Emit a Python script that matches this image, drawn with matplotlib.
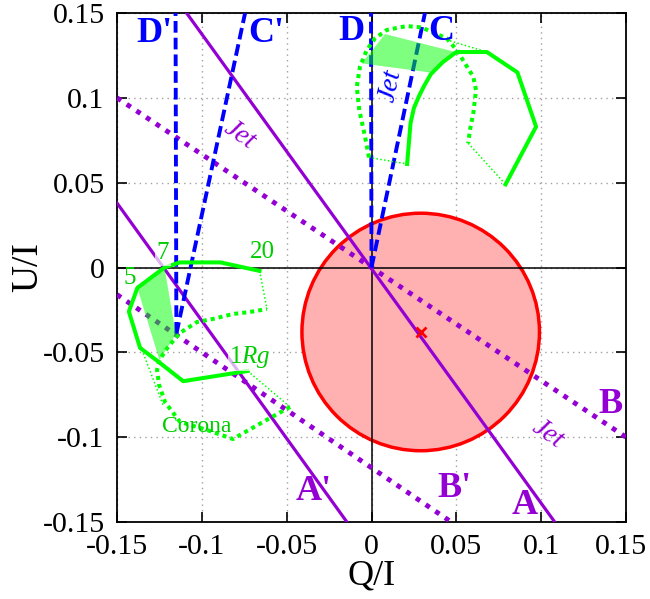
import numpy as np
import matplotlib
matplotlib.use("Agg")
import matplotlib.pyplot as plt
import matplotlib.transforms as mtransforms
from matplotlib.patches import Circle, Polygon

plt.rcParams['font.family'] = ['Liberation Serif', 'DejaVu Serif']
plt.rcParams['mathtext.fontset'] = 'custom'
plt.rcParams['mathtext.rm'] = 'Liberation Serif'
plt.rcParams['mathtext.it'] = 'Liberation Serif:italic'

PURPLE = '#9400d3'
GREEN = '#00ff00'
BLUE = '#0000ff'

ticks = [-0.15, -0.1, -0.05, 0, 0.05, 0.1, 0.15]
tick_labels = ['-0.15', '-0.1', '-0.05', '0', '0.05', '0.1', '0.15']

# polarisation circle
circ_q, circ_u, circ_r = 0.029, -0.038, 0.070

# position-angle lines (solid = A, A'; dotted = B, B')
lineA_q = [-0.109, 0.108]
lineA_u = [0.15, -0.15]
lineA2_q = [-0.15, -0.0145]
lineA2_u = [0.038, -0.15]
lineB_q = [-0.15, 0.15]
lineB_u = [0.10, -0.10]
lineB2_q = [-0.15, 0.047]
lineB2_u = [-0.016, -0.15]

# blue dashed lines
lineD_q = [0.0, -0.0003]
lineD_u = [0.0, 0.15]
lineC_q = [0.0, 0.0315]
lineC_u = [0.0, 0.15]
lineD2_q = [-0.115, -0.1155]
lineD2_u = [-0.039, 0.15]
lineC2_q = [-0.115, -0.0745]
lineC2_u = [-0.039, 0.15]

# jet loop (upper right)
jet_sol_q = [0.021, 0.023, 0.025, 0.028, 0.031, 0.035, 0.042, 0.050, 0.068, 0.086, 0.097, 0.079]
jet_sol_u = [0.061, 0.085, 0.094, 0.101, 0.107, 0.114, 0.121, 0.127, 0.127, 0.115, 0.083, 0.049]
jet_dot_q = [-0.0015, -0.0038, -0.0072, -0.0087, -0.0068, -0.0028, 0.0021, 0.0090, 0.0207,
             0.0296, 0.0364, 0.0443, 0.0502, 0.0551, 0.0600, 0.0616, 0.0600, 0.0580, 0.0570]
jet_dot_u = [0.0649, 0.0771, 0.0928, 0.1065, 0.1183, 0.1282, 0.1351, 0.1400, 0.1423,
             0.1415, 0.1384, 0.1351, 0.1282, 0.1203, 0.1124, 0.1046, 0.0909, 0.0810, 0.0732]
jet_fill_q = [-0.0058, 0.0080, 0.0502, 0.0355]
jet_fill_u = [0.1203, 0.1376, 0.1268, 0.1148]
jet_links = [((-0.0015, 0.021), (0.0649, 0.061)),
             ((0.0570, 0.079), (0.0732, 0.049)),
             ((0.0463, 0.068), (0.1336, 0.127))]

# corona loop (lower left)
cor_sol_q = [-0.073, -0.111, -0.1256, -0.1364, -0.143, -0.138, -0.130, -0.122, -0.113, -0.101, -0.089, -0.066]
cor_sol_u = [-0.061, -0.067, -0.0555, -0.0474, -0.026, -0.012, -0.006, 0.000, 0.003, 0.003, 0.003, -0.002]
cor_dot_q = [-0.0480, -0.0598, -0.0775, -0.0816, -0.0969, -0.1129, -0.1217, -0.1252, -0.1264,
             -0.1250, -0.1199, -0.1129, -0.1028, -0.0934, -0.0816, -0.0716, -0.0616]
cor_dot_u = [-0.0822, -0.0887, -0.0987, -0.1011, -0.0958, -0.0910, -0.0793, -0.0692, -0.0604,
             -0.0545, -0.0468, -0.0386, -0.0321, -0.0303, -0.0274, -0.0262, -0.0245]
cor_fill_q = [-0.138, -0.122, -0.1153, -0.125]
cor_fill_u = [-0.012, 0.000, -0.0395, -0.0545]
cor_links = [((-0.073, -0.048), (-0.061, -0.0822)),
             ((-0.066, -0.0616), (-0.002, -0.0245)),
             ((-0.1345, -0.1229), (-0.0506, -0.0810)),
             ((-0.1256, -0.1109), (-0.0563, -0.0673))]

fig = plt.figure(figsize=(6.5, 5.99), dpi=100)
ax = fig.add_axes([117 / 650, 1 - 522 / 599, 509 / 650, 509 / 599])

ax.set_xlim(-0.15, 0.15)
ax.set_ylim(-0.15, 0.15)
ax.set_xticks(ticks)
ax.set_yticks(ticks)
ax.set_xticklabels(tick_labels)
ax.set_yticklabels(tick_labels)
ax.tick_params(direction='in', length=7, width=1.2, labelsize=21.5, top=True, right=True, pad=9)
# pull the last x label in a little so it stays inside the figure
last = ax.get_xticklabels()[-1]
last.set_transform(last.get_transform() + mtransforms.ScaledTranslation(-5 / 100, 0, fig.dpi_scale_trans))
for s in ax.spines.values():
    s.set_linewidth(1.3)
ax.grid(True, color='#a0a0a0', linestyle=(0, (1, 3)), linewidth=1.0, zorder=0)
ax.set_axisbelow(True)
ax.set_xlabel('Q/I', fontsize=26, labelpad=-1)
ax.set_ylabel('U/I', fontsize=27, labelpad=-2)

ax.add_patch(Circle((circ_q, circ_u), circ_r, facecolor='#ffb0b0', edgecolor='red', linewidth=2.5, zorder=1))
ax.plot([circ_q], [circ_u], marker='x', color='red', markersize=7, markeredgewidth=2, zorder=6)

ax.axhline(0, color='black', linewidth=1.1, zorder=2)
ax.axvline(0, color='black', linewidth=1.1, zorder=2)

ax.plot(lineA_q, lineA_u, color=PURPLE, linewidth=2.3, zorder=3)
ax.plot(lineA2_q, lineA2_u, color=PURPLE, linewidth=2.3, zorder=3)
ax.plot(lineB_q, lineB_u, color=PURPLE, linewidth=3.5, linestyle=(0, (1, 1.4)), dash_capstyle='butt', zorder=3)
ax.plot(lineB2_q, lineB2_u, color=PURPLE, linewidth=3.5, linestyle=(0, (1, 1.4)), dash_capstyle='butt', zorder=3)

for q, u in [(lineD_q, lineD_u), (lineC_q, lineC_u), (lineD2_q, lineD2_u), (lineC2_q, lineC2_u)]:
    ax.plot(q, u, color=BLUE, linewidth=2.8, linestyle=(0, (3, 1.3)), dash_capstyle='butt', zorder=4)

for sq, su, dq, du, links in [(jet_sol_q, jet_sol_u, jet_dot_q, jet_dot_u, jet_links),
                              (cor_sol_q, cor_sol_u, cor_dot_q, cor_dot_u, cor_links)]:
    ax.plot(sq, su, color=GREEN, linewidth=2.9, zorder=5)
    ax.plot(dq, du, color=GREEN, linewidth=2.9, linestyle=(0, (1, 1)), dash_capstyle='butt', zorder=5)
    for lq, lu in links:
        ax.plot(lq, lu, color=GREEN, linewidth=1.1, linestyle=(0, (1, 1.5)), zorder=5)

for fq, fu in [(jet_fill_q, jet_fill_u), (cor_fill_q, cor_fill_u)]:
    ax.add_patch(Polygon(np.column_stack([fq, fu]), closed=True, facecolor=GREEN, alpha=0.5,
                         edgecolor='none', zorder=6))

bold = dict(fontsize=26, fontweight='bold', ha='center', va='center', zorder=8)
ax.text(-0.128, 0.138, "D'", color=BLUE, **bold)
ax.text(-0.062, 0.138, "C'", color=BLUE, **bold)
ax.text(-0.012, 0.139, "D", color=BLUE, **bold)
ax.text(0.041, 0.139, "C", color=BLUE, **bold)
ax.text(-0.034, -0.132, "A'", color=PURPLE, **bold)
ax.text(0.049, -0.130, "B'", color=PURPLE, **bold)
ax.text(0.0905, -0.140, "A", color=PURPLE, **bold)
ax.text(0.141, -0.081, "B", color=PURPLE, **bold)

jet = dict(fontsize=20, style='italic', ha='center', va='center', zorder=8)
ax.text(-0.0775, 0.078, 'Jet', color=PURPLE, rotation=-35, **jet)
ax.text(0.104, -0.098, 'Jet', color=PURPLE, rotation=-35, **jet)
ax.text(0.0115, 0.107, 'Jet', color=BLUE, rotation=78, **jet)

wbox = dict(facecolor='white', alpha=0.7, edgecolor='none', pad=1)
ax.text(-0.1229, 0.0085, '7', color='#00cc00', fontsize=18, ha='center', va='center', zorder=7, bbox=wbox)
ax.text(-0.1423, -0.0062, '5', color='#00cc00', fontsize=18, ha='center', va='center', zorder=7)
ax.text(-0.0645, 0.0094, '20', color='#00cc00', fontsize=18, ha='center', va='center', zorder=7)
ax.text(-0.0716, -0.0527, '1$Rg$', color='#00cc00', fontsize=18, ha='center', va='center', zorder=7, bbox=wbox)
ax.text(-0.1028, -0.094, 'Corona', color='#00cc00', fontsize=17, ha='center', va='center', zorder=7)

fig.savefig('out.png', dpi=100)
